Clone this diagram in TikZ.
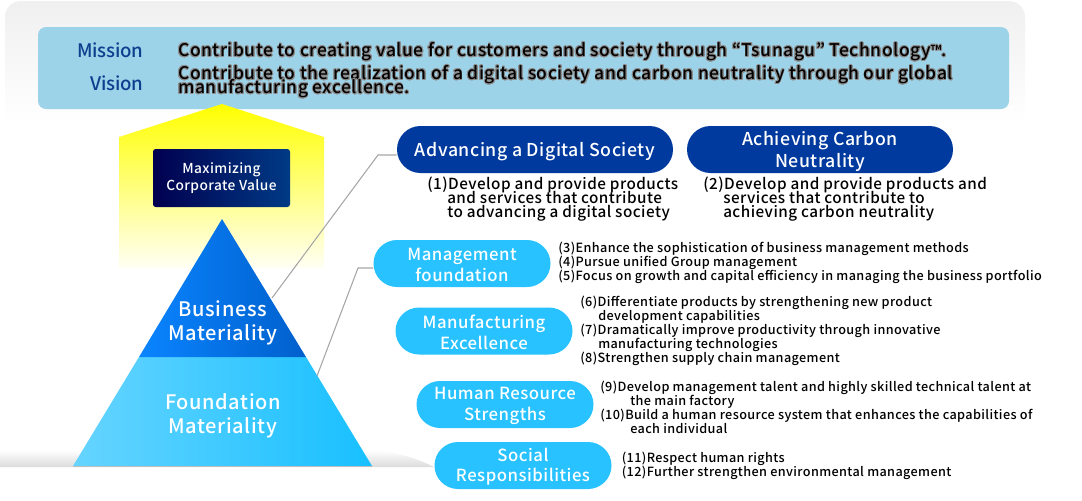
\documentclass[tikz,border=0pt]{standalone}
\usepackage{fontspec}
\usepackage[copies]{contour}
\setmainfont{Noto Sans CJK JP}[UprightFont=* Medium,BoldFont=* Bold,LetterSpace=3]
\usetikzlibrary{shapes.misc,positioning}
\definecolor{panelblue}{HTML}{9DD3E9}
\definecolor{navypill}{HTML}{003A9E}
\definecolor{skypill}{HTML}{27C2FF}
\definecolor{missionblue}{HTML}{0D3F8F}
\definecolor{upperleft}{HTML}{0A84FF}
\definecolor{upperright}{HTML}{0060CC}
\definecolor{lowerleft}{HTML}{66D4FF}
\definecolor{lowerright}{HTML}{18C0FF}
\definecolor{valueleft}{HTML}{00004F}
\definecolor{valueright}{HTML}{003A85}
\contourlength{0.55pt}
\contournumber{16}
\lineskiplimit=-20pt
\newcommand{\itemnum}[1]{(#1)}
\begin{document}
\begin{tikzpicture}[x=0.75pt,y=-0.75pt]
        \tikzstyle{navy}=[rounded rectangle, fill=navypill, inner sep=0pt, minimum height=35.25pt]
        \tikzstyle{navytext}=[text=white, align=center, inner sep=0pt, yshift=-1.3pt, font=\fontsize{13.3}{16.5}\selectfont]
        \tikzstyle{sky}=[rounded rectangle, fill=skypill, inner sep=0pt, minimum width=132.75pt, minimum height=35.25pt]
        \tikzstyle{skytext}=[text=white, align=center, inner sep=0pt, yshift=-1pt, font=\fontsize{12.55}{15.2}\selectfont]
        \tikzstyle{goals}=[anchor=west, align=left, inner sep=0pt, font=\fontsize{11.45}{10.5}\selectfont]
        \tikzstyle{items}=[anchor=west, align=left, inner sep=0pt, font=\fontsize{9.5}{10.5}\selectfont]
        \tikzstyle{heading}=[anchor=east, inner sep=0pt, text=missionblue, font=\fontsize{14}{18}\selectfont\addfontfeature{LetterSpace=-1}]
        \tikzstyle{statement}=[anchor=west, align=left, inner sep=0pt, font=\fontsize{13.1}{11.5}\selectfont]
        \tikzstyle{level}=[align=center, inner sep=0pt, text=white, font=\fontsize{15}{18}\selectfont]
        \tikzstyle{connect}=[draw=black!35, thick]
        \useasboundingbox (0,0) rectangle (1082,500);
        \path[top color=black!6, bottom color=white] (5,125) [rounded corners=12pt] -- (5,1) -- (1025,1) [sharp corners] -- (1025,125) -- cycle;
        \fill[panelblue, rounded corners=6pt] (38,27) rectangle (1009,109);
        \path[top color=yellow, bottom color=yellow!4] (222,104) -- (324,137) -- (324,268) -- (119,268) -- (119,137) -- cycle;
        \path[top color=white, bottom color=black!14] (0,467) -- (0,450) -- (372,450) .. controls (400,452) and (420,460) .. (434,467) -- cycle;
        \path[left color=lowerleft, right color=lowerright] (139,357) -- (306,357) -- (372,466) -- (73,466) -- cycle;
        \path[left color=upperleft, right color=upperright] (222,219) -- (306,357) -- (139,357) -- cycle;
        \draw[black!25] (73,466.5) -- (372,466.5);
        \node[level] (business) at (223,323) {Business\\Materiality};
        \node[level] (foundation) at (223,416) {Foundation\\Materiality};
        \node[rounded corners=2pt, left color=valueleft, right color=valueright, text=white, align=center, minimum width=102.75pt, minimum height=43.5pt, inner sep=0pt, font=\fontsize{10.3}{13}\selectfont] (value) at (221.5,178) {Maximizing\\Corporate Value};
        \node[heading] (mission) at (143.5,50) {Mission};
        \node[heading] (vision) at (143.5,83) {Vision};
        \node[statement] (missiontext) at (178,52) {\contour{black!45}{Contribute to creating value for customers and society through “Tsunagu” Technology{\fontsize{11}{11}\selectfont ™}.}};
        \node[statement] (visiontext) at (178,75) {\contour{black!45}{Contribute to the realization of a digital society and carbon neutrality through our global}};
        \node[statement] (visiontext2) at (178,89) {\contour{black!45}{manufacturing excellence.}};
        \node[navy, minimum width=207pt, label={[navytext]center:Advancing a Digital Society}] (digital) at (535,149.5) {};
        \node[navy, minimum width=199.5pt, label={[navytext]center:Achieving Carbon\\Neutrality}] (carbon) at (820,149.5) {};
        \node[sky, label={[skytext]center:Management\\foundation}] (management) at (462,263.5) {};
        \node[sky, label={[skytext]center:Manufacturing\\Excellence}] (manufacturing) at (484,331) {};
        \node[sky, label={[skytext]center:Human Resource\\Strengths}] (human) at (505,404.5) {};
        \node[sky, label={[skytext]center:Social\\Responsibilities}] (social) at (523,465.5) {};
        \node[goals] (goal1) at (427,199) {\itemnum{1}Develop and provide products\\\hspace*{15pt}and services that contribute\\\hspace*{15pt}to advancing a digital society};
        \node[goals] (goal2) at (703,199) {\itemnum{2}Develop and provide products and\\\hspace*{15pt}services that contribute to\\\hspace*{15pt}achieving carbon neutrality};
        \node[items] (list3) at (558,263) {\itemnum{3}Enhance the sophistication of business management methods\\\itemnum{4}Pursue unified Group management\\\itemnum{5}Focus on growth and capital efficiency in managing the business portfolio};
        \node[items] (list6) at (580,331) {\itemnum{6}Differentiate products by strengthening new product\\\hspace*{13.5pt}development capabilities\\\itemnum{7}Dramatically improve productivity through innovative\\\hspace*{13.5pt}manufacturing technologies\\\itemnum{8}Strengthen supply chain management};
        \node[items] (list9) at (600,407) {\itemnum{9}Develop management talent and highly skilled technical talent at\\\hspace*{22.5pt}the main factory\\\itemnum{10}Build a human resource system that enhances the capabilities of\\\hspace*{22.5pt}each individual};
        \node[items] (list11) at (621.5,466) {\itemnum{11}Respect human rights\\\itemnum{12}Further strengthen environmental management};
        \coordinate (upperedge) at (272,298);
        \coordinate (upperbend) at (378,155);
        \coordinate (loweredge) at (317,376);
        \coordinate (lowerbend) at (358,268);
        \draw[connect] (upperedge) -- (upperbend) -- (digital.west |- upperbend);
        \draw[connect] (loweredge) -- (lowerbend) -- (management.west |- lowerbend);
      \end{tikzpicture}
\end{document}
